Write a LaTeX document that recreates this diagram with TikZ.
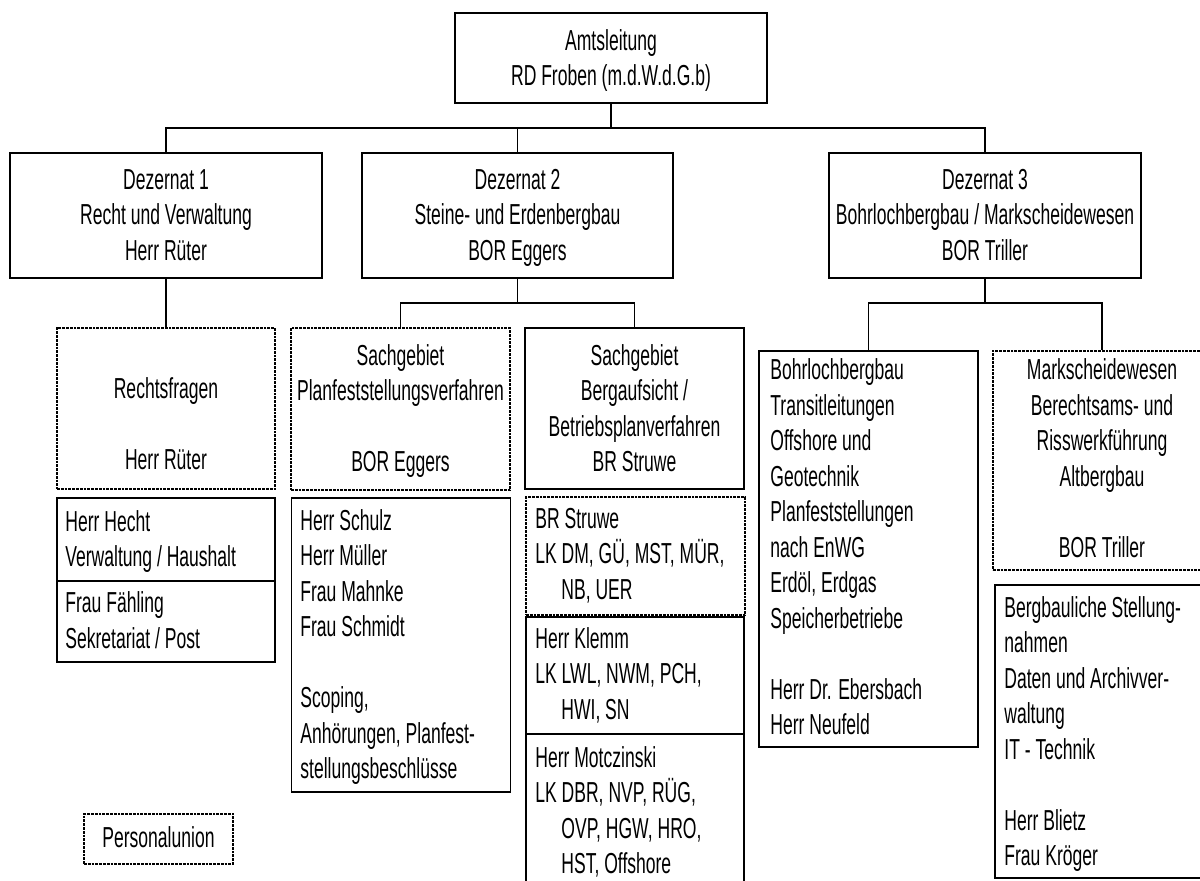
\documentclass[tikz,border=0pt]{standalone}
\usepackage{fontspec}
\setmainfont{Liberation Sans}[FakeStretch=0.607]
\usetikzlibrary{fit}
\newcommand\orgfs{\fontsize{14.45pt}{17.75pt}\selectfont}
\tikzset{
  box/.style={draw, line width=0.75pt, inner sep=0pt},
  dbox/.style={box, dash pattern=on 1.4pt off 0.5pt},
  ctext/.style={anchor=north, align=center, inner sep=0pt, yshift=12.425pt, font=\orgfs},
  ltext/.style={anchor=north west, align=left, inner sep=0pt, yshift=12.425pt, font=\orgfs},
  conn/.style={line width=0.65pt},
}
\begin{document}
\begin{tikzpicture}[x=0.5pt, y=-0.5pt]
\useasboundingbox (0,0) rectangle (1200,881);
\fill[white] (0,0) rectangle (1200,881);
\clip (0,0) rectangle (1200,881);

% level 0
\node[box, fit={(455,13) (767,103)}] (amt) {};
\node[ctext] (amtT) at (611,50) {\strut Amtsleitung\\RD Froben (m.d.W.d.G.b)};

% level 1
\node[box, fit={(10,153) (322,278)}] (dez1) {};
\node[box, fit={(362,153) (673,278)}] (dez2) {};
\node[box, fit={(829,153) (1141,278)}] (dez3) {};
\node[ctext] (dez1T) at (166,189) {\strut Dezernat 1\\Recht und Verwaltung\\Herr Rüter};
\node[ctext] (dez2T) at (517.5,189) {\strut Dezernat 2\\Steine- und Erdenbergbau\\BOR Eggers};
\node[ctext] (dez3T) at (985,189) {\strut Dezernat 3\\Bohrlochbergbau / Markscheidewesen\\BOR Triller};

\coordinate (bus1) at (611,128);
\draw[conn] (amt.south) -- (bus1);
\draw[conn] (bus1) -| (dez1.north);
\draw[conn] (bus1) -| (dez2.north);
\draw[conn] (bus1) -| (dez3.north);

% Dezernat 1 branch
\node[dbox, fit={(57,328) (275,489)}] (rechts) {};
\node[ctext] (rechtsT) at (166,398) {\strut Rechtsfragen\\[17.75pt]Herr Rüter};
\draw[conn] (dez1.south) -- (rechts.north);
\node[box, fit={(57,498) (275,581)}] (hecht) {};
\node[ltext] (hechtT) at (65,531) {\strut Herr Hecht\\Verwaltung / Haushalt};
\node[box, fit={(57,581) (275,662)}] (faehling) {};
\node[ltext] (faehlingT) at (65,612.5) {\strut Frau Fähling\\Sekretariat / Post};

\node[dbox, fit={(84,814) (233,864)}] (pers) {};
\node[ctext] (persT) at (158.5,847) {\strut Personalunion};

% Dezernat 2 branch
\coordinate (bus2) at (517.5,303);
\node[dbox, fit={(291,328) (510,490)}] (planf) {};
\node[ctext] (planfT) at (400.5,365) {\strut Sachgebiet\\Planfeststellungsverfahren\\[17.75pt]BOR Eggers};
\node[box, fit={(525,328) (744,489)}] (berg) {};
\node[ctext] (bergT) at (634.5,365) {\strut Sachgebiet\\Bergaufsicht /\\Betriebsplanverfahren\\BR Struwe};
\draw[conn] (dez2.south) -- (bus2);
\draw[conn] (bus2) -| (planf.north);
\draw[conn] (bus2) -| (berg.north);

\node[box, fit={(291.5,498) (510.5,792)}] (schulz) {};
\node[ltext] (schulzT) at (300,530) {\strut Herr Schulz\\Herr Müller\\Frau Mahnke\\Frau Schmidt\\[17.75pt]Scoping,\\Anhörungen, Planfest-\\stellungsbeschlüsse};

\node[dbox, fit={(526,497) (745,615)}] (struwe) {};
\node[ltext] (struweT) at (535,528) {\strut BR Struwe\\LK DM, GÜ, MST, MÜR,\\\hspace*{13pt}NB, UER};
\node[box, fit={(526,617) (744,734)}] (klemm) {};
\node[ltext] (klemmT) at (535,648) {\strut Herr Klemm\\LK LWL, NWM, PCH,\\\hspace*{13pt}HWI, SN};
\node[box, fit={(526,734) (744,900)}] (motcz) {};
\node[ltext] (motczT) at (535,767) {\strut Herr Motczinski\\LK DBR, NVP, RÜG,\\\hspace*{13pt}OVP, HGW, HRO,\\\hspace*{13pt}HST, Offshore};

% Dezernat 3 branch
\coordinate (bus3) at (985,303);
\node[box, fit={(759,351) (978,747)}] (bohr) {};
\node[ltext] (bohrT) at (770,379.5) {\strut Bohrlochbergbau\\Transitleitungen\\Offshore und\\Geotechnik\\Planfeststellungen\\nach EnWG\\Erdöl, Erdgas\\Speicherbetriebe\\[17.75pt]Herr Dr. Ebersbach\\Herr Neufeld};
\node[dbox, fit={(993,351) (1211,570)}] (mark) {};
\node[ctext] (markT) at (1102,379.5) {\strut Markscheidewesen\\Berechtsams- und\\Risswerkführung\\Altbergbau\\[17.75pt]BOR Triller};
\draw[conn] (dez3.south) -- (bus3);
\draw[conn] (bus3) -| (bohr.north);
\draw[conn] (bus3) -| (mark.north);

\node[box, fit={(995,585) (1213,878)}] (bergb) {};
\node[ltext] (bergbT) at (1004,617) {\strut Bergbauliche Stellung-\\nahmen\\Daten und Archivver-\\waltung\\IT - Technik\\[17.75pt]Herr Blietz\\Frau Kröger};
\end{tikzpicture}
\end{document}
